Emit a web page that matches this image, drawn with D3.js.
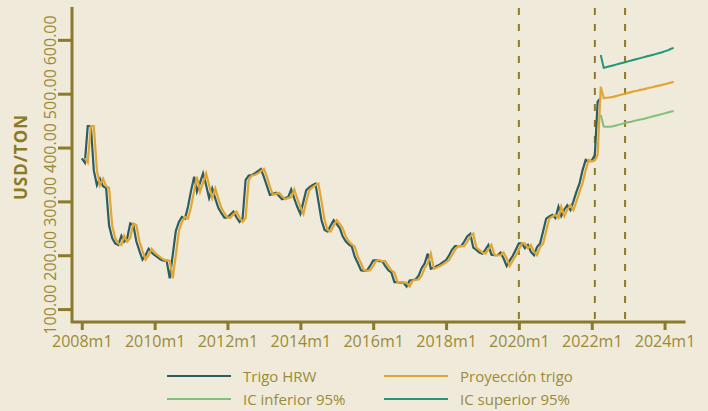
<!DOCTYPE html>
<html>
<head>
<meta charset="utf-8">
<script src="https://cdn.jsdelivr.net/npm/d3@7"></script>
<style>
  body { margin: 0; background: #f0eada; }
  svg { display: block; }
  text { font-family: "Open Sans", Lato, sans-serif; }
</style>
</head>
<body>
<svg id="chart" width="708" height="411"></svg>
<script>
// serie mensual desde 2008m1
const trigoHRW = [
  380, 372, 440, 440, 357, 330, 342, 328, 325, 255, 232, 222,
  219, 236, 225, 232, 259, 256, 226, 208, 192, 200, 212, 205,
  200, 196, 192, 190, 190, 157, 200, 245, 262, 271, 268, 290,
  320, 346, 318, 335, 352, 330, 306, 324, 305, 288, 278, 270,
  270, 276, 281, 270, 262, 269, 340, 348, 349, 352, 356, 360,
  345, 328, 312, 314, 316, 310, 304, 306, 308, 322, 305, 290,
  277, 300, 321, 326, 330, 333, 300, 265, 247, 244, 255, 265,
  258, 250, 235, 226, 220, 216, 197, 185, 172, 171, 172, 180,
  190, 191, 189, 189, 180, 172, 168, 150, 150, 149, 149, 142,
  153, 154, 155, 162, 176, 185, 203, 175, 177, 180, 183, 187,
  191, 200, 210, 217, 217, 217, 225, 235, 240, 214, 210, 205,
  203, 211, 219, 201, 200, 200, 205, 194, 180, 190, 199, 210,
  222, 222, 213, 219, 206, 200, 215, 222, 245, 268, 272, 275,
  269, 290, 273, 285, 293, 284, 300, 318, 334, 358, 377, 374,
  376, 386, 485, 492
];
// proyeccion (ajuste + pronostico) desde 2008m2
const proyTrigo = [
  380, 372, 440, 440, 357, 330, 342, 328, 325, 255, 232, 222,
  219, 236, 225, 232, 259, 256, 226, 208, 192, 200, 212, 205,
  200, 196, 192, 190, 190, 157, 200, 245, 262, 271, 268, 290,
  320, 346, 318, 335, 352, 330, 306, 324, 305, 288, 278, 270,
  270, 276, 281, 270, 262, 269, 340, 348, 349, 352, 356, 360,
  345, 328, 312, 314, 316, 310, 304, 306, 308, 322, 305, 290,
  277, 300, 321, 326, 330, 333, 300, 265, 247, 244, 255, 265,
  258, 250, 235, 226, 220, 216, 197, 185, 172, 171, 172, 180,
  190, 191, 189, 189, 180, 172, 168, 150, 150, 149, 149, 142,
  153, 154, 155, 162, 176, 185, 203, 175, 177, 180, 183, 187,
  191, 200, 210, 217, 217, 217, 225, 235, 240, 214, 210, 205,
  203, 211, 219, 201, 200, 200, 205, 194, 180, 190, 199, 210,
  222, 222, 213, 219, 206, 200, 215, 222, 245, 268, 272, 275,
  269, 290, 273, 285, 293, 284, 300, 318, 334, 358, 377, 374,
  376, 386, 513,
  492, 492.5, 493, 494, 495.5, 497, 498.5, 500, 501.5, 503, 504.5, 505.5,
  507, 508, 509.5, 511, 512, 513.5, 515, 516, 517.5, 519, 520.5, 522
];
// intervalos desde 2022m4
const icInferior = [461, 439, 438.5, 438.5, 439.5, 441, 442.5, 444, 445.5, 447, 448, 449.5, 450.5,
  452, 453, 454.5, 456, 457.5, 459, 460.5, 462, 463.5, 465, 466.5, 468];
const icSuperior = [572, 548, 549.5, 551, 552.5, 554, 555.5, 557, 558.5, 560, 561.5, 563, 564.5,
  566, 567.5, 569, 570.5, 572, 573.5, 575, 576.5, 578.5, 580.5, 583, 585];

const yTicks = [100, 200, 300, 400, 500, 600];
const xTickYears = [2008, 2010, 2012, 2014, 2016, 2018, 2020, 2022, 2024];
const marcas = [[2020, 1], [2022, 2], [2022, 12]];

const svg = d3.select("#chart");
const axisColor = "#8a7a2c";
const textColor = "#9a8a38";

const x = d3.scaleTime()
  .domain([new Date(2007, 8, 25), new Date(2024, 6, 29)])
  .range([72, 685.5]);
const y = d3.scaleLinear()
  .domain([76, 661])
  .range([322, 7]);

const toPoints = (arr, y0, m0) => arr.map((v, i) => ({ date: new Date(y0, m0 - 1 + i, 1), v }));

const series = [
  { key: "Trigo HRW", color: "#2b5d63", data: toPoints(trigoHRW, 2008, 1), w: 2.2 },
  { key: "Proyección trigo", color: "#e2a632", data: toPoints(proyTrigo, 2008, 2), w: 2.2 },
  { key: "IC inferior 95%", color: "#80c07c", data: toPoints(icInferior, 2022, 4), w: 2 },
  { key: "IC superior 95%", color: "#21977a", data: toPoints(icSuperior, 2022, 4), w: 2 }
];

// dashed markers
svg.append("g").selectAll("line")
  .data(marcas)
  .enter().append("line")
  .attr("x1", d => x(new Date(d[0], d[1] - 1, 1)))
  .attr("x2", d => x(new Date(d[0], d[1] - 1, 1)))
  .attr("y1", 8)
  .attr("y2", 322)
  .attr("stroke", axisColor)
  .attr("stroke-width", 2)
  .attr("stroke-dasharray", "7,9");

const line = d3.line()
  .x(d => x(d.date))
  .y(d => y(d.v));

svg.append("g").selectAll("path")
  .data(series)
  .enter().append("path")
  .attr("d", d => line(d.data))
  .attr("fill", "none")
  .attr("stroke", d => d.color)
  .attr("stroke-width", d => d.w)
  .attr("stroke-linejoin", "miter");

// y axis
const yAxis = svg.append("g")
  .attr("transform", "translate(72,0)")
  .call(d3.axisLeft(y).tickValues(yTicks).tickSize(14).tickFormat(d3.format(".2f")).tickSizeOuter(0));
yAxis.select(".domain").remove();
yAxis.append("line").attr("x1", 0).attr("x2", 0).attr("y1", 7).attr("y2", 323)
  .attr("stroke", axisColor).attr("stroke-width", 3);
yAxis.selectAll(".tick line").attr("stroke", axisColor).attr("stroke-width", 3);
yAxis.selectAll(".tick text")
  .attr("x", 0).attr("dy", null)
  .attr("transform", "translate(-22,0) rotate(-90)")
  .attr("text-anchor", "middle")
  .attr("dominant-baseline", "central")
  .attr("fill", textColor)
  .style("font-size", "16px");

// x axis
const xAxis = svg.append("g")
  .attr("transform", "translate(0,322)")
  .call(d3.axisBottom(x)
    .tickValues(xTickYears.map(yr => new Date(yr, 0, 1)))
    .tickSize(8)
    .tickSizeOuter(0)
    .tickFormat(d => d.getFullYear() + "m1"));
xAxis.select(".domain").remove();
xAxis.append("line").attr("x1", 71).attr("x2", 685.5).attr("y1", 0).attr("y2", 0)
  .attr("stroke", axisColor).attr("stroke-width", 3);
xAxis.selectAll(".tick line").attr("stroke", axisColor).attr("stroke-width", 3);
xAxis.selectAll(".tick text")
  .attr("y", 25).attr("dy", null)
  .attr("fill", textColor)
  .style("font-size", "16px");

// y title
svg.append("text")
  .attr("transform", "translate(20,157) rotate(-90)")
  .attr("text-anchor", "middle")
  .attr("dominant-baseline", "central")
  .attr("fill", "#8a7a25")
  .style("font-size", "17px")
  .style("font-weight", "bold")
  .style("letter-spacing", "1px")
  .text("USD/TON");

// legend
const legendPos = [[167, 376], [384, 376], [167, 399], [384, 399]];
const legend = svg.selectAll(".legend")
  .data(series)
  .enter().append("g")
  .attr("class", "legend")
  .attr("transform", (d, i) => `translate(${legendPos[i][0]},${legendPos[i][1]})`);
legend.append("line")
  .attr("x1", 0).attr("x2", 64)
  .attr("stroke", d => d.color)
  .attr("stroke-width", 2.2);
legend.append("text")
  .attr("x", 76)
  .attr("dominant-baseline", "central")
  .attr("fill", textColor)
  .style("font-size", "15px")
  .text(d => d.key);
</script>
</body>
</html>
